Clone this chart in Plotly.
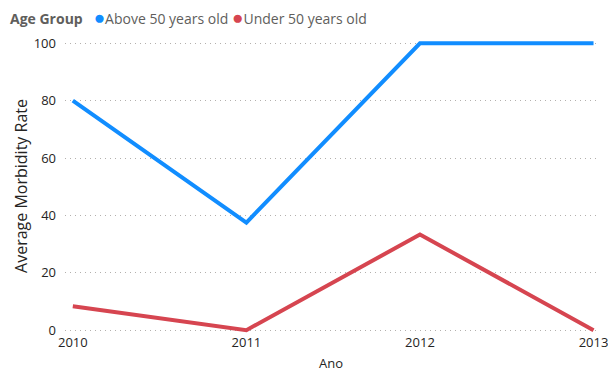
import plotly.graph_objects as go

years = [2010, 2011, 2012, 2013]
above_50 = [80, 37.5, 100, 100]
under_50 = [8.33, 0, 33.33, 0]
y_ticks = [0, 20, 40, 60, 80, 100]

BLUE = "#118DFF"
RED = "#D64550"
FONT = "Segoe UI, Open Sans, sans-serif"

fig = go.Figure()
fig.add_trace(go.Scatter(x=years, y=above_50, mode="lines", name="Above 50 years old",
                         line=dict(color=BLUE, width=4), showlegend=False))
fig.add_trace(go.Scatter(x=years, y=under_50, mode="lines", name="Under 50 years old",
                         line=dict(color=RED, width=4), showlegend=False))

legend_text = ("<b>Age Group</b>&nbsp;&nbsp;&nbsp;"
               f"<span style='color:{BLUE};font-size:19px'>●</span>Above 50 years old&nbsp;"
               f"<span style='color:{RED};font-size:19px'>●</span>Under 50 years old")
fig.add_annotation(text=legend_text, xref="paper", yref="paper", x=-57/533, y=1, yshift=22,
                   xanchor="left", yanchor="middle", showarrow=False,
                   font=dict(family=FONT, size=14, color="#605E5C"))

fig.update_layout(
    width=608, height=372,
    margin=dict(l=65, r=11, t=39, b=39, autoexpand=False),
    paper_bgcolor="white", plot_bgcolor="white",
    font=dict(family=FONT, size=13, color="#605E5C"),
    xaxis=dict(range=[2009.955, 2013.02], tickvals=years, ticktext=[str(y) for y in years],
               showgrid=False, zeroline=False, showline=False, ticks="", automargin=False,
               ticklabeloverflow="allow",
               tickfont=dict(size=13, color="#252423"),
               title=dict(text="Ano", font=dict(size=13, color="#252423"), standoff=14)),
    yaxis=dict(range=[-1, 101.5], tickvals=y_ticks, showgrid=True, gridcolor="#B3B0AD",
               griddash="1px,4px", gridwidth=1, zeroline=False, showline=False, ticks="",
               ticklabelstandoff=8, automargin=False,
               tickfont=dict(size=13, color="#252423"),
               title=dict(text="Average Morbidity Rate", font=dict(size=16, color="#252423"),
                          standoff=2)),
)

fig.write_html("out.html")
